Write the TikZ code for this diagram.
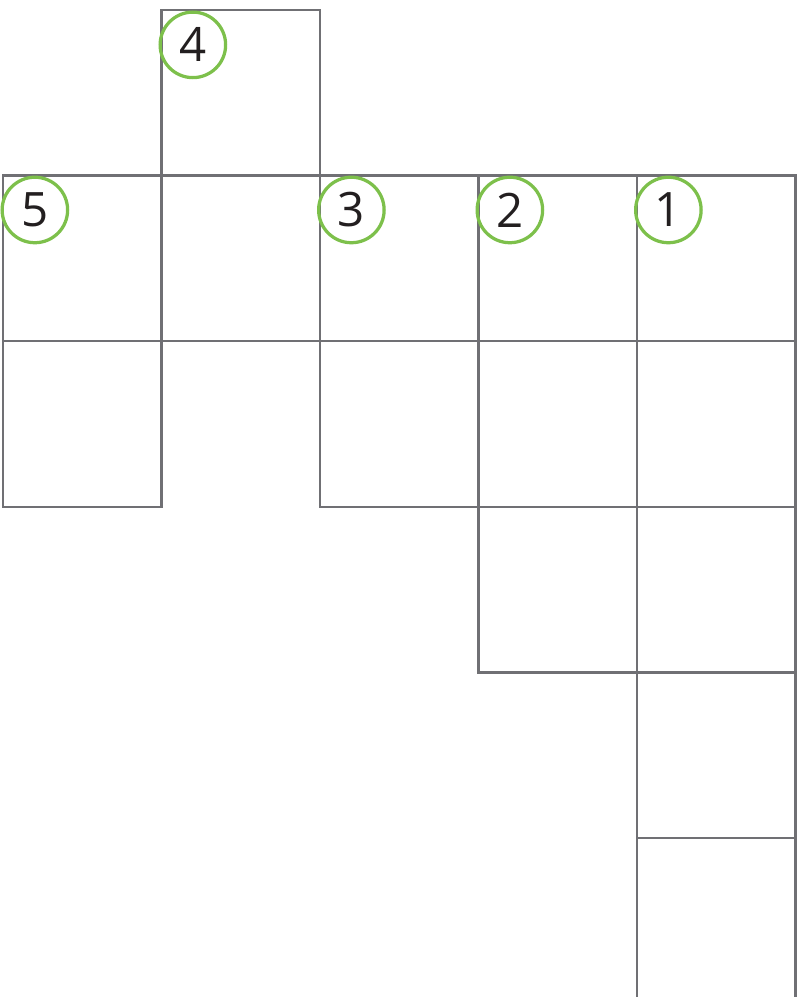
\documentclass[tikz,border=0pt]{standalone}
\usepackage{fontspec}
\setsansfont{Open Sans}
\usepackage{tikz}

\definecolor{gridgray}{HTML}{707074}
\definecolor{numgreen}{HTML}{7DC04B}
\definecolor{numink}{HTML}{231F20}

\begin{document}
\begin{tikzpicture}[x=0.2mm, y=-0.2mm,
      sq/.style ={draw=gridgray, line width=0.45mm, inner sep=0pt,
                  minimum width=31.7mm, minimum height=33.12mm},
      num/.style={draw=numgreen, line width=0.65mm, circle, inner sep=0pt,
                  minimum size=13.1mm, text=numink,
                  font=\sffamily\fontsize{27}{28}\selectfont}
    ]
    \useasboundingbox (0,0) rectangle (801,997);
    \clip (0,0) rectangle (801,997);

    % Felder des Rätsels: Spalte/Zeile
    \foreach \c/\r in {1/0, 0/1, 1/1, 2/1, 3/1, 4/1, 0/2, 2/2, 3/2, 4/2,
                       3/3, 4/3, 4/4, 4/5}
      \node[sq] (c\r\c) at ({3+158.5*(\c+0.5)}, {10+165.6*(\r+0.5)}) {};

    % Nummern in der linken oberen Ecke
    \node[num, xshift=6.5mm, yshift=-7.2mm] (n4) at (c01.north west) {4};
    \node[num, xshift=6.6mm, yshift=-7.1mm] (n5) at (c10.north west) {5};
    \node[num, xshift=6.5mm, yshift=-7.1mm] (n3) at (c12.north west) {3};
    \node[num, xshift=6.5mm, yshift=-7.1mm] (n2) at (c13.north west) {2};
    \node[num, xshift=6.5mm, yshift=-7.1mm] (n1) at (c14.north west) {1};
  \end{tikzpicture}
\end{document}
